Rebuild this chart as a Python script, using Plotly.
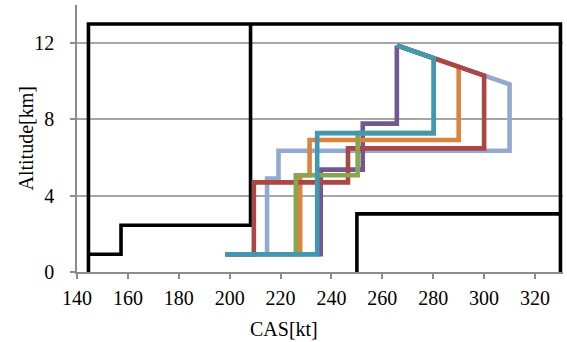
import plotly.graph_objects as go

# Speed envelope (black): outer frame, minimum-speed staircase, 250 kt below 10,000 ft
frame_cas = [144.5, 144.5, 330, 330]
frame_alt = [0, 13, 13, 0]
min_cas = [144.5, 157.3, 157.3, 208.2, 208.2]
min_alt = [0.93, 0.93, 2.45, 2.45, 13]
low_cas = [250, 250, 330]
low_alt = [0, 3.05, 3.05]

# Climb profiles: CAS [kt] vs altitude [km]
lightblue_cas = [198.3, 214.7, 214.7, 219.2, 219.2, 310, 310, 265.7]
lightblue_alt = [0.93, 0.93, 4.9, 4.9, 6.36, 6.36, 9.84, 11.88]
purple_cas = [198.3, 235.8, 235.8, 252.3, 252.3, 265.7, 265.7]
purple_alt = [0.93, 0.93, 5.37, 5.37, 7.78, 7.78, 11.88]
orange_cas = [198.3, 227.7, 227.7, 231.4, 231.4, 290, 290, 265.7]
orange_alt = [0.93, 0.93, 5.07, 5.07, 6.92, 6.92, 10.76, 11.88]
red_cas = [198.3, 209.5, 209.5, 246.5, 246.5, 300, 300, 265.7]
red_alt = [0.93, 0.93, 4.7, 4.7, 6.48, 6.48, 10.3, 11.88]
green_cas = [198.3, 226.0, 226.0, 250.3, 250.3, 280.2, 280.2, 265.7]
green_alt = [0.93, 0.93, 5.07, 5.07, 7.28, 7.28, 11.21, 11.88]
teal_cas = [198.3, 234.4, 234.4, 280.2, 280.2, 265.7]
teal_alt = [0.93, 0.93, 7.28, 7.28, 11.21, 11.88]

x_ticks = [140, 160, 180, 200, 220, 240, 260, 280, 300, 320]
y_ticks = [0, 4, 8, 12]

FONT = "'Times New Roman', 'Liberation Serif', serif"
W_ENV = 3.6
W_PROF = 4.6

fig = go.Figure()

for cx, cy in [(frame_cas, frame_alt), (min_cas, min_alt), (low_cas, low_alt)]:
    fig.add_trace(go.Scatter(x=cx, y=cy, mode="lines",
                             line=dict(color="#000000", width=W_ENV),
                             hoverinfo="skip"))

profiles = [
    (lightblue_cas, lightblue_alt, "#93A9CF"),
    (purple_cas, purple_alt, "#71588F"),
    (orange_cas, orange_alt, "#DB843D"),
    (red_cas, red_alt, "#AA4643"),
    (green_cas, green_alt, "#89A54E"),
    (teal_cas, teal_alt, "#4198AF"),
]
for cx, cy, col in profiles:
    fig.add_trace(go.Scatter(x=cx, y=cy, mode="lines",
                             line=dict(color=col, width=W_PROF)))

axis_gray = "#8C8C8C"
fig.update_layout(
    width=567, height=342,
    margin=dict(l=77, r=4, t=5, b=70),
    paper_bgcolor="white", plot_bgcolor="white",
    showlegend=False,
    font=dict(family=FONT, size=20, color="#000000"),
    xaxis=dict(range=[140, 331], tickvals=x_ticks, showgrid=False,
               showline=True, linecolor=axis_gray, linewidth=1.5,
               ticks="outside", ticklen=5, tickcolor=axis_gray, tickwidth=1.5,
               zeroline=False, ticklabelstandoff=2,
               tickfont=dict(family=FONT, size=20)),
    yaxis=dict(range=[0, 14], tickvals=y_ticks, showgrid=True,
               gridcolor="#A6A6A6", gridwidth=1.5,
               showline=True, linecolor=axis_gray, linewidth=1.5,
               ticks="outside", ticklen=5, tickcolor=axis_gray, tickwidth=1.5,
               zeroline=False, ticklabelstandoff=12,
               tickfont=dict(family=FONT, size=20)),
    annotations=[
        dict(text="CAS[kt]", xref="paper", yref="paper",
             x=(283.5 - 77) / 486, y=(272 - 329) / 267,
             xanchor="center", yanchor="middle", showarrow=False,
             font=dict(family=FONT, size=20)),
        dict(text="Altitude[km]", xref="paper", yref="paper",
             x=(25 - 77) / 486, y=0.5, textangle=-90,
             xanchor="center", yanchor="middle", showarrow=False,
             font=dict(family=FONT, size=20)),
    ],
)

fig.write_html("out.html")
